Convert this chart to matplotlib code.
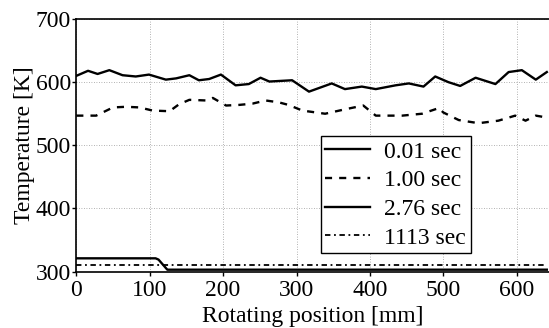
import matplotlib as mpl
import numpy as np

mpl.use("Agg")
import matplotlib.pyplot as plt  # noqa: E402

# rotating position [mm] and temperature [K]
X_001 = [0, 16, 29, 45, 63, 81, 99, 122, 136, 154, 167, 181, 197, 217, 235, 251, 263,
         294, 317, 348, 366, 389, 408, 435, 453, 473, 489, 507, 523, 544, 571, 589, 607, 626, 641]
T_001 = [610, 618, 613, 619, 611, 609, 612, 604, 606, 611, 603, 605, 612, 595, 597, 607, 601,
         603, 585, 598, 589, 593, 589, 595, 598, 593, 609, 600, 594, 607, 597, 616, 619, 604, 616]

X_100 = [0, 27, 50, 68, 86, 104, 127, 140, 154, 177, 186, 204, 222, 240, 258, 276,
         289, 308, 339, 366, 391, 408, 444, 471, 494, 500, 521, 548, 575, 598, 612, 626, 641]
T_100 = [547, 547, 560, 561, 560, 555, 554, 565, 572, 571, 575, 563, 564, 566, 571, 568,
         564, 555, 550, 557, 563, 547, 547, 550, 559, 552, 540, 535, 539, 547, 539, 547, 544]

X_276 = [0, 108, 112, 124, 641]
T_276 = [321, 321, 319, 303, 303]

X_1113 = [0, 641]
T_1113 = [311, 311]

LABELS = ["0.01 sec", "1.00 sec", "2.76 sec", "1113 sec"]

plt.rcParams["font.family"] = ["Liberation Serif", "DejaVu Serif"]

fig = plt.figure(figsize=(5.49, 3.28), dpi=100)
ax = fig.add_axes([0.139, 0.172, 0.861, 0.77])

ax.plot(X_001, T_001, "-", color="black", lw=1.7, label=LABELS[0])
ax.plot(X_100, T_100, color="black", lw=1.7, ls=(0, (3, 3)), label=LABELS[1])
ax.plot(X_276, T_276, "-", color="black", lw=1.7, label=LABELS[2])
ax.plot(X_1113, T_1113, color="black", lw=1.3, ls=(0, (3, 2, 1, 2)), label=LABELS[3])

ax.set_xlim(0, 644)
ax.set_ylim(300, 700)
ax.set_xticks(np.arange(0, 601, 100))
ax.set_yticks(np.arange(300, 701, 100))
ax.grid(True, color="#999999", ls=(0, (1, 2)), lw=0.6)
ax.tick_params(labelsize=17, length=3, width=1, pad=1)
ax.tick_params(axis="x", pad=3)
ax.spines["right"].set_visible(False)
for s in ("left", "bottom", "top"):
    ax.spines[s].set_linewidth(1.2)

ax.set_xlabel("Rotating position [mm]", fontsize=17, labelpad=4)
ax.set_ylabel("Temperature [K]", fontsize=17, labelpad=0)

leg = ax.legend(loc="upper left", bbox_to_anchor=(0.517, 0.535), fontsize=17,
                frameon=True, fancybox=False, edgecolor="black", framealpha=1,
                handlelength=1.9, handletextpad=0.6, labelspacing=0.3,
                borderpad=0.2, borderaxespad=0)
leg.get_frame().set_linewidth(1.0)

fig.savefig("out.png", dpi=100)
